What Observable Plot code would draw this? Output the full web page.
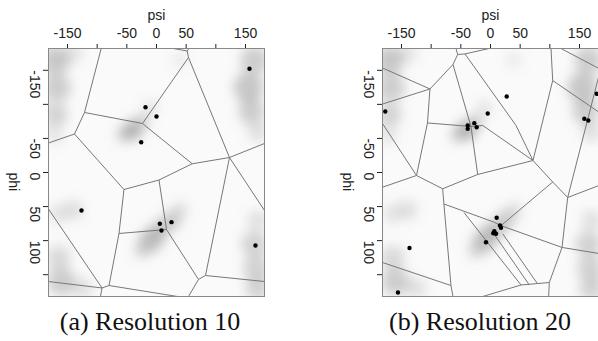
<!DOCTYPE html>
<html>
<head>
<meta charset="utf-8">
<script src="https://cdn.jsdelivr.net/npm/d3@7"></script>
<script src="https://cdn.jsdelivr.net/npm/@observablehq/plot@0.6"></script>
<style>
  html, body { margin: 0; padding: 0; background: #fff; }
  body { width: 598px; height: 341px; overflow: hidden; position: relative; }
  .panel { position: absolute; top: 0; }
  .cap { position: absolute; top: 308px; width: 300px; text-align: center;
         font-family: "Liberation Serif", "Times New Roman", serif; font-size: 26px;
         line-height: 28px; color: #111; white-space: nowrap; }
</style>
</head>
<body>
<div id="pa" class="panel" style="left:0px"></div>
<div id="pb" class="panel" style="left:334px"></div>
<div class="cap" style="left:0px">(a) Resolution 10</div>
<div class="cap" style="left:330px">(b) Resolution 20</div>
<script>
// ---------- axes ----------
const xTicks = [-150, -100, -50, 0, 50, 100, 150];
const xTickLabels = ["-150", "", "-50", "0", "50", "", "150"];
const yTicks = [-150, -100, -50, 0, 50, 100, 150];
const yTickLabels = ["-150", "", "-50", "0", "50", "100", ""];

// ---------- gray background density (shared data set) ----------
const cloudPsi   = [-170,-168,-170,-172,-140, 165,155,160,170, 170,165,168,170, -165,-160,-125, -140,-165, -40,-55,-25,-10,  -10,  5, 25, 40,-25,  40];
const cloudPhi   = [-165,-125, -85, -55,-175,-165,-125,-90,-60,  70,105,140,170,  125, 160, 170,   55,  60, -62,-55,-75,-95,  100, 85, 70, 55,115,-165];
const cloudR     = [  14,  14,  12,   9,  10,  14,  15, 13, 10,  10, 13, 13, 12,   12,  14,  10,   10,  10,  10,  8,  8,  7,   12, 10, 10,  8,  8,   8];
const cloudAlpha = [ .45, .40, .35, .20, .20, .40, .45,.40,.25, .25,.35,.35,.35,  .30, .40, .25,  .25, .20, .60,.35,.35,.25,  .50,.45,.40,.25,.30, .15];

// ---------- panel (a): resolution 10 ----------
const aPointPsi = [-18.5, 0, 156.7, -25.8, -126.4, 5.6, 25.3, 8.4, 166.8];
const aPointPhi = [-95.8, -82.2, -152.2, -44.5, 55.8, 75.3, 72.9, 85.1, 107.1];

// Voronoi vertices (psi, phi)
const aVertexPsi = [-93.2,-121.3,-23.6,-138.2,-182,-54.8, 4.2, 60.2, 123, 53.9, 51.7, 28.6, 54.8, 182, 182, 82.6, 182, 70.8, 53.9, 16.9,-63.2,-80.0,-91.8,-182,-94.4, 35.4,-182];
const aVertexPhi = [-182, -88.1,-71.9, -56.5,-43.3, 25.0,11.0,-12.8, -22,-168.8,-178.3,-182,-182,-42.6,55.8,151.2,160,157.0, 182, 83.7, 89.5,165.9,169.5, 160, 182, 182, 53.6];
// edges as vertex index pairs
const aEdgeFrom = [0,1,1,3,3,5,6,2,7, 2, 9,10,10, 9,8,8, 8,15,15,17,17,19,19, 5,20,21,21,22,22,22];
const aEdgeTo   = [1,2,3,4,5,6,7,7,8, 9,10,11,12, 8,13,14,15,16,17,18,19, 6,20,20,21,25,22,23,26,24];

// ---------- panel (b): resolution 20 ----------
const bPointPsi = [-177.3, 27.3, -4.7, 179, 158.1, 164.8, -38.4, -38.4, -27.3, -23.3, 10.4, 16, 17.7, 6.4, 4.7, 9.3, -7.6, -136.5, -155.9];
const bPointPhi = [-89.5, -111.6, -86.6, -115.5, -78.8, -76.3, -69, -64.1, -72.4, -66.5, 66.5, 77.8, 81.2, 86.2, 89.1, 90, 102.3, 110.8, 176.1];

const bVertexPsi = [
  -182, -102, -182, -55.3, -58.1, -43, -2.5, -63.2, -106.2, -32.9,   // 0-9
  -124.7, -182, -182, -80.6, -21.6, 71.6, 104.8, 102, 182.8, 118.8,   // 10-19
  182.8, 104.8, 130.1, 182.8, 182.8, 120.5, 182.8, 99.1, 98, 79,       // 20-29
  51.4, -13.1, -78.5, -66.6, -182, -63.2, 6.4, 17.7, -44.7, 20.6,      // 30-39
  4.2, 64.9, -13, 43                                                   // 40-43
];
const bVertexPhi = [
  -153.4, -122.6, -100.5, -173.2, -182, -174, -182, -158.5, -72.7, -67.5,
  4.4, -71.9, 21.6, 23.9, 2.9, -17.6, -135, -182, -88.5, -182,
  -152.6, 13.9, 36.7, 19.1, -142.4, 110, 118.9, 161.5, 182, 163,
  165.1, 182, 46.2, 165.9, 132.1, 182, 73, 78, 58.7, 90,
  88.1, 164.4, -69, -69
];
const bEdgeFrom = [0,2,1,7,3,3,5,1,8,7, 9, 8,11,10,10,13,14,5,43, 16,16,16,19,15,21,22,22,22,25,25,27,27,29,30,13,32,33,33,32,36,37,37,38,39,40,42, 9];
const bEdgeTo   = [1,1,7,3,4,5,6,8,9,9,14,10,10,12,13,14,15,43,15,17,15,18,20,21,22,23,24,25,26,27,28,29,30,31,32,33,34,35,36,37,21,25,30,29,41,15,42];

function buildPanel(el, pointPsi, pointPhi, vPsi, vPhi, eFrom, eTo, uid) {
  const clouds = cloudPsi.map((d, i) => ({psi: d, phi: cloudPhi[i], r: cloudR[i], a: cloudAlpha[i]}));
  const pts = pointPsi.map((d, i) => ({psi: d, phi: pointPhi[i]}));
  const segs = eFrom.map((f, i) => ({x1: vPsi[f], y1: vPhi[f], x2: vPsi[eTo[i]], y2: vPhi[eTo[i]]}));
  const yLab = yTicks.map((d, i) => ({phi: d, t: yTickLabels[i]})).filter(d => d.t);

  const svg = Plot.plot({
    width: 264, height: 300,
    marginTop: 48, marginLeft: 48, marginRight: 0, marginBottom: 4,
    style: {fontFamily: "'Liberation Sans', Arial, sans-serif", fontSize: "14px", color: "#222", background: "none", overflow: "visible"},
    x: {domain: [-182, 182], axis: "top", ticks: xTicks, tickFormat: d => xTickLabels[xTicks.indexOf(d)], tickSize: 5, tickPadding: 6, label: null},
    y: {domain: [-182, 182], reverse: true, ticks: yTicks, tickFormat: () => "", tickSize: 5, tickPadding: 0, label: null},
    r: {type: "linear", domain: [0, 20], range: [0, 20]},
    marks: [
      Plot.frame({fill: "#fafafa", stroke: "none"}),
      Plot.dot(clouds, {x: "psi", y: "phi", r: "r", fill: "#8a8a8a", fillOpacity: "a", stroke: "none", clip: true, ariaDescription: "cloud"}),
      Plot.link(segs, {x1: "x1", y1: "y1", x2: "x2", y2: "y2", stroke: "#777", strokeWidth: 1, clip: true}),
      Plot.dot(pts, {x: "psi", y: "phi", r: 2.2, fill: "#000", stroke: "none"}),
      Plot.frame({stroke: "#888"}),
      Plot.text(yLab, {y: "phi", text: "t", frameAnchor: "left", dx: -14, rotate: 90, fill: "#222"}),
      Plot.text(["psi"], {frameAnchor: "top", dy: -38, fill: "#222"}),
      Plot.text(["phi"], {frameAnchor: "left", dx: -35, rotate: 90, fill: "#222"})
    ]
  });
  // soft density: blur the cloud layer
  const ns = "http://www.w3.org/2000/svg";
  const defs = document.createElementNS(ns, "defs");
  defs.innerHTML = `<filter id="blur${uid}" x="-50%" y="-50%" width="200%" height="200%"><feGaussianBlur stdDeviation="6"/></filter>`;
  svg.insertBefore(defs, svg.firstChild);
  let g = svg.querySelector('g[aria-description="cloud"]');
  if (!g) g = svg.querySelector('g[aria-label="dot"]');
  if (g) g.setAttribute("filter", `url(#blur${uid})`);
  el.appendChild(svg);
}

buildPanel(document.getElementById("pa"), aPointPsi, aPointPhi, aVertexPsi, aVertexPhi, aEdgeFrom, aEdgeTo, "A");
buildPanel(document.getElementById("pb"), bPointPsi, bPointPhi, bVertexPsi, bVertexPhi, bEdgeFrom, bEdgeTo, "B");
</script>
</body>
</html>
